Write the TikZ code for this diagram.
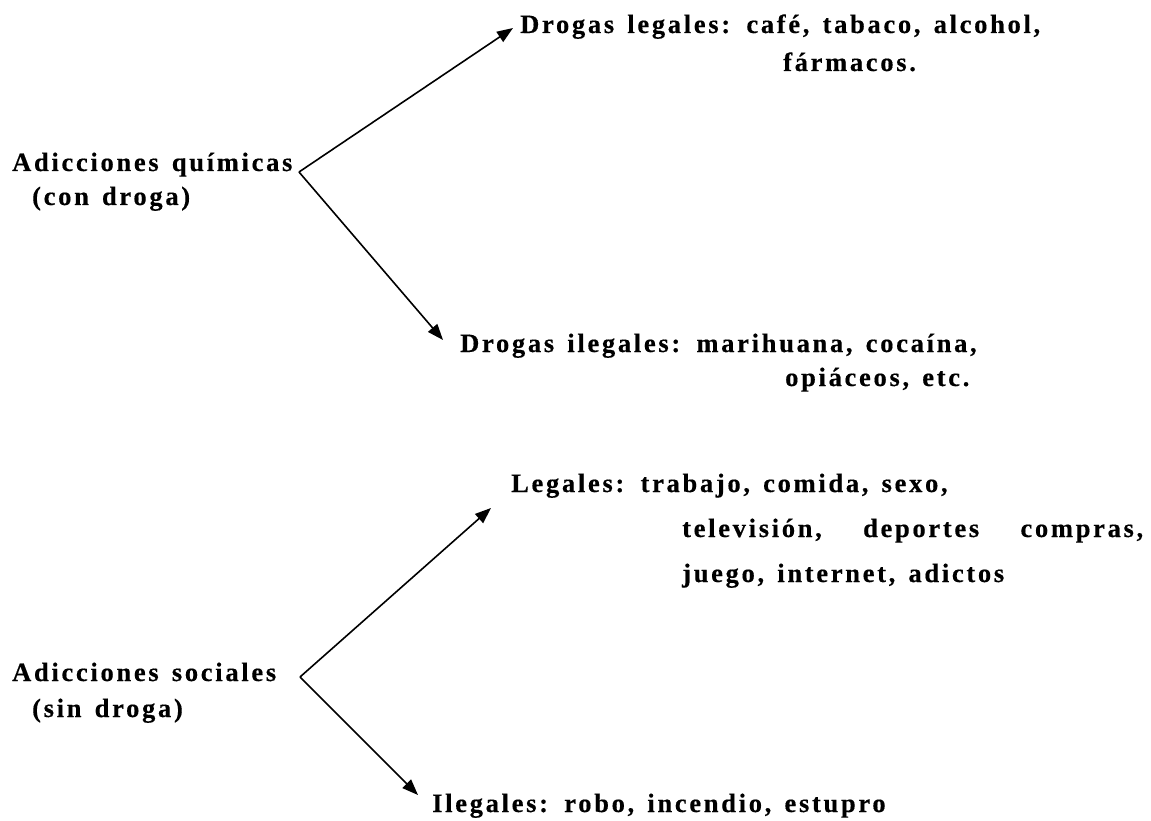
\documentclass[tikz,border=0pt]{standalone}
\usepackage{fontspec}
\setmainfont{Liberation Serif}[LetterSpace=10.2, WordSpace=1.41, BoldFeatures={FakeBold=0.4}]
\usetikzlibrary{arrows.meta}

\begin{document}
\begin{tikzpicture}[x=1pt, y=-1pt,
  txt/.style={anchor=base west, inner sep=0pt, font=\fontsize{26.5}{32}\selectfont\bfseries},
  arr/.style={line width=1.6pt, -{Triangle[length=16pt, width=12pt]}}
]
\useasboundingbox (0,0) rectangle (1151,821);
% quimicas
\node[txt] (quim)   at (12, 171)  {Adicciones químicas};
\node[txt] (quim2)  at (32, 205)  {(con droga)};
\coordinate (forkq) at (299, 172);
\node[txt] (dleg)   at (520, 33)  {Drogas legales: café, tabaco, alcohol,};
\node[txt] (dleg2)  at (783, 71)  {fármacos.};
\node[txt] (dileg)  at (460, 352) {Drogas ilegales: marihuana, cocaína,};
\node[txt] (dileg2) at (785, 386) {opiáceos, etc.};
\draw[arr] (forkq) -- ([shift={(-7,-5)}]dleg.base west);
\draw[arr] (forkq) -- ([shift={(-17,-12)}]dileg.base west);
% sociales
\node[txt] (soc)    at (12, 681)  {Adicciones sociales};
\node[txt] (soc2)   at (32, 717)  {(sin droga)};
\coordinate (forks) at (300, 677);
\node[txt] (sleg)   at (511, 492) {Legales: trabajo, comida, sexo,};
\node[txt] (sleg2)  at (682, 537) {\makebox[461pt][s]{televisión,\hfill deportes\hfill compras,}};
\node[txt] (sleg3)  at (682, 582) {juego, internet, adictos};
\node[txt] (sileg)  at (432, 812) {Ilegales: robo, incendio, estupro};
\draw[arr] (forks) -- ([shift={(-20,16)}]sleg.base west);
\draw[arr] (forks) -- ([shift={(-14,-17)}]sileg.base west);
\end{tikzpicture}
\end{document}
